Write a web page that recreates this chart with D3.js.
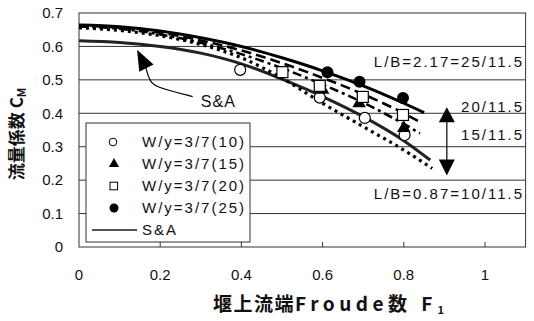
<!DOCTYPE html>
<html>
<head>
<meta charset="utf-8">
<script src="https://cdn.jsdelivr.net/npm/d3@7"></script>
<style>
  body { margin: 0; background: #fff; }
  text { font-family: "Liberation Sans", Arial, sans-serif; fill: #111; }
  .jp { font-family: "Noto Sans CJK JP", sans-serif; font-weight: 700; }
</style>
</head>
<body>
<div id="chart"></div>
<script>
// tick labels
const xTicks = [0, 0.2, 0.4, 0.6, 0.8, 1];
const yTicks = [0, 0.1, 0.2, 0.3, 0.4, 0.5, 0.6, 0.7];

// calculated curves
const lb25X = [0, 0.1, 0.2, 0.3, 0.4, 0.5, 0.6, 0.7, 0.8, 0.85];
const lb25Y = [0.664, 0.659, 0.646, 0.626, 0.6, 0.566, 0.527, 0.482, 0.43, 0.402];
const lb20X = [0, 0.1, 0.2, 0.3, 0.4, 0.5, 0.6, 0.7, 0.8, 0.84];
const lb20Y = [0.662, 0.656, 0.641, 0.618, 0.588, 0.55, 0.506, 0.457, 0.4, 0.374];
const lb15X = [0, 0.1, 0.2, 0.3, 0.4, 0.5, 0.6, 0.7, 0.8, 0.84];
const lb15Y = [0.66, 0.653, 0.636, 0.611, 0.577, 0.535, 0.486, 0.432, 0.368, 0.34];
const lb10X = [0, 0.1, 0.2, 0.3, 0.4, 0.5, 0.6, 0.7, 0.8, 0.87];
const lb10Y = [0.656, 0.648, 0.632, 0.606, 0.566, 0.505, 0.43, 0.36, 0.29, 0.235];
const saX = [0, 0.1, 0.2, 0.3, 0.4, 0.5, 0.6, 0.7, 0.8, 0.865];
const saY = [0.617, 0.612, 0.6, 0.58, 0.548, 0.502, 0.45, 0.39, 0.318, 0.26];

// experiments W/y=3/7
const w10X = [0.397, 0.593, 0.704, 0.802];
const w10Y = [0.53, 0.447, 0.386, 0.335];
const w15X = [0.6, 0.69, 0.8];
const w15Y = [0.47, 0.43, 0.356];
const w20X = [0.501, 0.593, 0.699, 0.798];
const w20Y = [0.523, 0.482, 0.449, 0.395];
const w25X = [0.612, 0.691, 0.798];
const w25Y = [0.523, 0.494, 0.446];

const lbLabels = ['L/B=2.17=25/11.5', '20/11.5', '15/11.5', 'L/B=0.87=10/11.5'];
const lbLabelY = [0.555, 0.42, 0.335, 0.16];
const legendNames = ['W/y=3/7(10)', 'W/y=3/7(15)', 'W/y=3/7(20)', 'W/y=3/7(25)', 'S&A'];

const W = 534, H = 321;
const svg = d3.select('#chart').append('svg').attr('width', W).attr('height', H);

const x = d3.scaleLinear().domain([0, 1.1]).range([79, 525.6]);
const y = d3.scaleLinear().domain([0, 0.7]).range([247, 13]);

// grid
svg.append('g')
  .selectAll('line')
  .data(yTicks.slice(1, -1))
  .enter()
  .append('line')
  .attr('x1', x(0)).attr('x2', x(1.1))
  .attr('y1', (d) => y(d)).attr('y2', (d) => y(d))
  .attr('stroke', '#333').attr('stroke-width', 1);

svg.append('rect')
  .attr('x', x(0)).attr('y', y(0.7))
  .attr('width', x(1.1) - x(0)).attr('height', y(0) - y(0.7))
  .attr('fill', 'none').attr('stroke', '#333').attr('stroke-width', 1);

// small inner ticks on the bottom
svg.append('g')
  .selectAll('line')
  .data(xTicks.slice(1))
  .enter()
  .append('line')
  .attr('x1', (d) => x(d)).attr('x2', (d) => x(d))
  .attr('y1', y(0)).attr('y2', y(0) - 5)
  .attr('stroke', '#333');

// tick labels
svg.append('g')
  .selectAll('text')
  .data(yTicks)
  .enter()
  .append('text')
  .attr('x', 63).attr('y', (d) => y(d)).attr('dy', '0.35em')
  .attr('text-anchor', 'end').attr('font-size', 15)
  .text((d) => (d === 0 ? '0' : d3.format('.1f')(d)));

svg.append('g')
  .selectAll('text')
  .data(xTicks)
  .enter()
  .append('text')
  .attr('x', (d) => x(d)).attr('y', 275).attr('dy', '0.35em')
  .attr('text-anchor', 'middle').attr('font-size', 15)
  .text((d) => (d === 0 || d === 1 ? String(d) : d3.format('.1f')(d)));

// curves
const zip = (xs, ys) => xs.map((v, i) => [v, ys[i]]);
const line = d3.line().x((d) => x(d[0])).y((d) => y(d[1])).curve(d3.curveMonotoneX);

const curves = [
  { pts: zip(saX, saY), w: 3, dash: null, color: '#222' },
  { pts: zip(lb10X, lb10Y), w: 3.2, dash: '3,4', color: '#000' },
  { pts: zip(lb15X, lb15Y), w: 2.6, dash: '9,4,3,4', color: '#000' },
  { pts: zip(lb20X, lb20Y), w: 2.6, dash: '10,5', color: '#000' },
  { pts: zip(lb25X, lb25Y), w: 3, dash: null, color: '#000' },
];
svg.append('g')
  .selectAll('path')
  .data(curves)
  .enter()
  .append('path')
  .attr('d', (d) => line(d.pts))
  .attr('fill', 'none')
  .attr('stroke', (d) => d.color)
  .attr('stroke-width', (d) => d.w)
  .attr('stroke-dasharray', (d) => d.dash);

// markers
const pts = svg.append('g');
const sym = (type, size) => d3.symbol().type(type).size(size)();
pts.selectAll('.w10').data(zip(w10X, w10Y)).enter().append('circle')
  .attr('cx', (d) => x(d[0])).attr('cy', (d) => y(d[1])).attr('r', 5.5)
  .attr('fill', '#fff').attr('stroke', '#000').attr('stroke-width', 1.2);
pts.selectAll('.w15').data(zip(w15X, w15Y)).enter().append('path')
  .attr('d', sym(d3.symbolTriangle, 80))
  .attr('transform', (d) => `translate(${x(d[0])},${y(d[1])})`)
  .attr('fill', '#000');
pts.selectAll('.w20').data(zip(w20X, w20Y)).enter().append('rect')
  .attr('x', (d) => x(d[0]) - 5.5).attr('y', (d) => y(d[1]) - 5.5)
  .attr('width', 11).attr('height', 11)
  .attr('fill', '#fff').attr('stroke', '#000').attr('stroke-width', 1.2);
pts.selectAll('.w25').data(zip(w25X, w25Y)).enter().append('circle')
  .attr('cx', (d) => x(d[0])).attr('cy', (d) => y(d[1])).attr('r', 6)
  .attr('fill', '#000');

// L/B labels on the right
svg.append('g')
  .selectAll('text')
  .data(lbLabels)
  .enter()
  .append('text')
  .attr('x', 524).attr('y', (d, i) => y(lbLabelY[i])).attr('dy', '0.35em')
  .attr('text-anchor', 'end').attr('font-size', 15).attr('letter-spacing', 2)
  .text((d) => d);

// range arrow at F1 = 0.906
const ax = x(0.906);
svg.append('line')
  .attr('x1', ax).attr('x2', ax).attr('y1', y(0.38)).attr('y2', y(0.255))
  .attr('stroke', '#000').attr('stroke-width', 1.2);
svg.append('path')
  .attr('d', `M${ax},${y(0.418)}L${ax - 8},${y(0.373)}L${ax + 8},${y(0.373)}Z`)
  .attr('fill', '#000');
svg.append('path')
  .attr('d', `M${ax},${y(0.214)}L${ax - 8},${y(0.262)}L${ax + 8},${y(0.262)}Z`)
  .attr('fill', '#000');

// S&A annotation
svg.append('text')
  .attr('x', x(0.3)).attr('y', y(0.436)).attr('dy', '0.35em')
  .attr('font-size', 16).attr('letter-spacing', 1)
  .text('S&A');
const arrowPath = d3.line().x((d) => x(d[0])).y((d) => y(d[1])).curve(d3.curveBasis);
svg.append('path')
  .attr('d', arrowPath([[0.28, 0.45], [0.2, 0.475], [0.175, 0.49], [0.165, 0.535]]))
  .attr('fill', 'none').attr('stroke', '#000').attr('stroke-width', 1.2);
{
  const tx = x(0.143), ty = y(0.59);
  const bx = x(0.166), by = y(0.535);
  const dx = tx - bx, dy = ty - by, len = Math.hypot(dx, dy);
  const px = -dy / len * 8, py = dx / len * 8;
  svg.append('path')
    .attr('d', `M${tx},${ty}L${bx + px},${by + py}L${bx - px},${by - py}Z`)
    .attr('fill', '#000');
}

// legend
const lg = svg.append('g');
lg.append('rect')
  .attr('x', 86).attr('y', 123).attr('width', 164).attr('height', 119)
  .attr('fill', '#fff').attr('stroke', '#333').attr('stroke-width', 1);
const rowY = (i) => 142 + i * 22;
lg.append('circle').attr('cx', 113).attr('cy', rowY(0)).attr('r', 3.8)
  .attr('fill', '#fff').attr('stroke', '#000').attr('stroke-width', 1);
lg.append('path').attr('d', sym(d3.symbolTriangle, 45))
  .attr('transform', `translate(114,${rowY(1)})`).attr('fill', '#000');
lg.append('rect').attr('x', 110).attr('y', rowY(2) - 3.8).attr('width', 7.6).attr('height', 7.6)
  .attr('fill', '#fff').attr('stroke', '#000').attr('stroke-width', 1);
lg.append('circle').attr('cx', 114).attr('cy', rowY(3)).attr('r', 4.5).attr('fill', '#000');
lg.append('line').attr('x1', 92).attr('x2', 137).attr('y1', rowY(4)).attr('y2', rowY(4))
  .attr('stroke', '#555').attr('stroke-width', 2);
lg.selectAll('.lt').data(legendNames).enter().append('text')
  .attr('x', 142).attr('y', (d, i) => rowY(i)).attr('dy', '0.35em')
  .attr('font-size', 15).attr('letter-spacing', 2)
  .text((d) => d);

// axis titles
const yt = svg.append('text')
  .attr('class', 'jp')
  .attr('transform', 'translate(23,134) rotate(-90)')
  .attr('text-anchor', 'middle').attr('font-size', 17);
yt.append('tspan').text('流量係数 C');
yt.append('tspan').attr('font-size', 11).attr('dy', 3).text('M');

const xt = svg.append('text')
  .attr('class', 'jp')
  .attr('x', 213).attr('y', 311).attr('font-size', 19);
xt.append('tspan').attr('letter-spacing', 1.5).text('堰上流端');
xt.append('tspan').attr('letter-spacing', 4.5).text('Froude');
xt.append('tspan').attr('letter-spacing', 5).text('数 F');
xt.append('tspan').attr('font-size', 11).attr('dy', 3).text('1');
</script>
</body>
</html>
